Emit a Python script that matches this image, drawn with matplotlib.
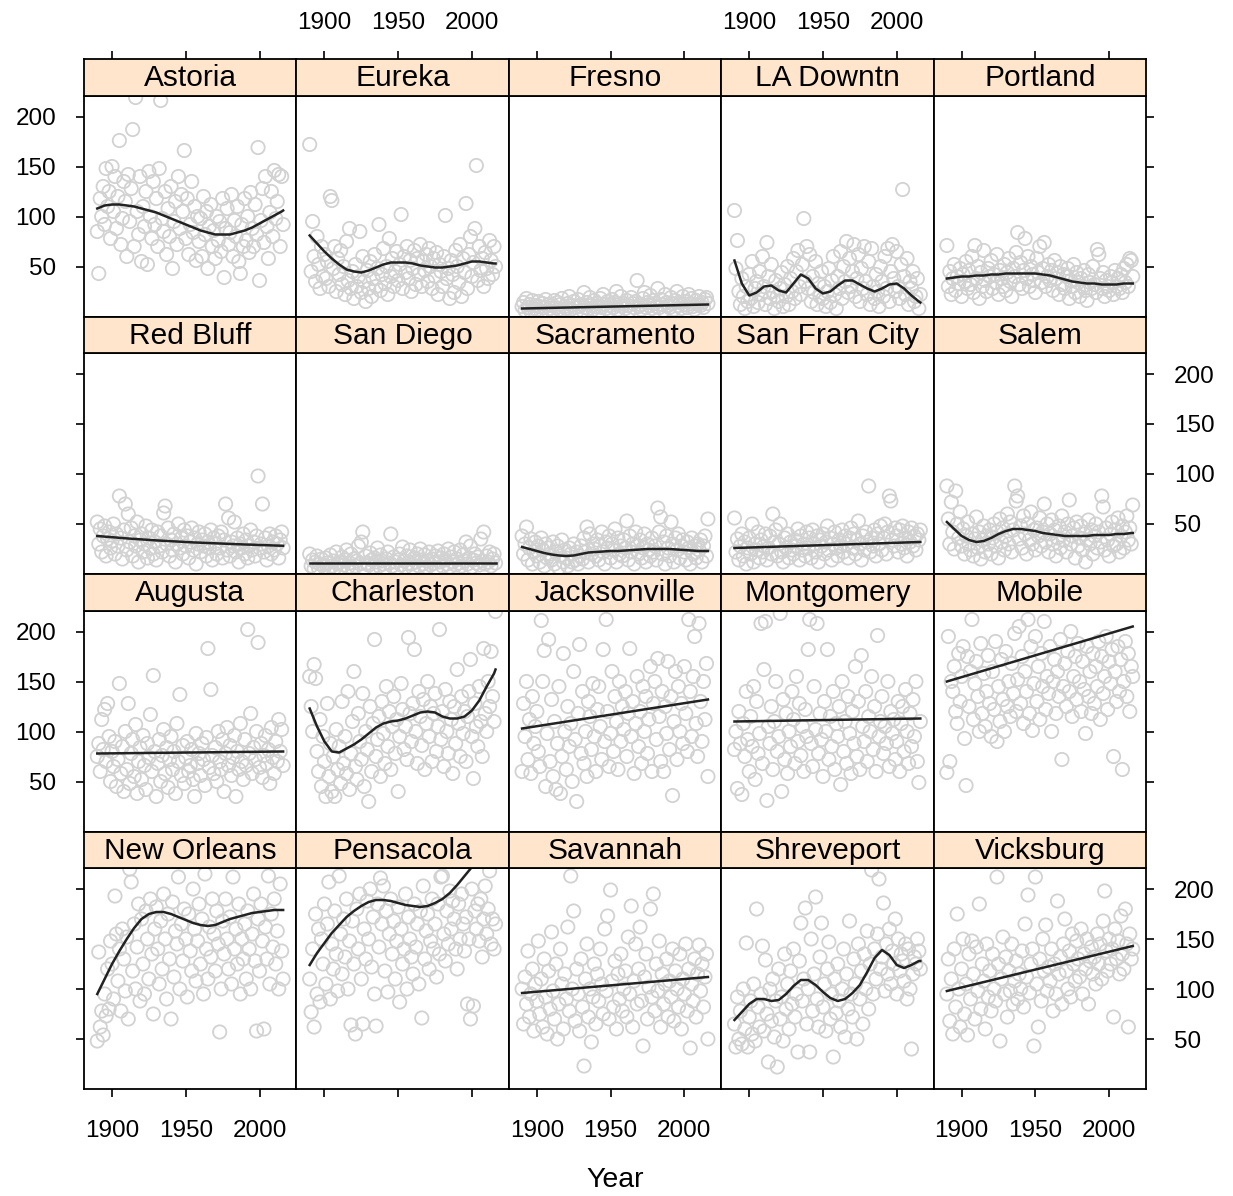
import numpy as np
import matplotlib.pyplot as plt

# ---------------------------------------- annual values per station, 1890..2016 ----------------------------------------
first_year = 1890
knots = list(range(1890, 2016, 5)) + [2016]   # years where the smooth curve was read
ends = [1890, 2016]                           # straight-line fits

astoria = [85, 43, 118, 100, 130, 92, 148, 110, 125, 78,
           150, 105, 140, 88, 120, 176, 72, 98, 135, 115,
           60, 142, 95, 128, 187, 70, 219, 105, 82, 140,
           55, 110, 90, 125, 52, 145, 100, 78, 135, 92,
           118, 70, 148, 216, 98, 85, 125, 62, 108, 80,
           130, 48, 95, 115, 72, 140, 88, 122, 105, 166,
           78, 118, 62, 92, 135, 84, 110, 56, 100, 75,
           98, 60, 120, 82, 105, 48, 90, 112, 70, 86,
           58, 100, 76, 95, 65, 118, 39, 88, 108, 72,
           84, 122, 60, 96, 80, 110, 55, 43, 92, 70,
           118, 76, 100, 64, 124, 88, 70, 112, 82, 169,
           36, 96, 128, 74, 140, 90, 58, 104, 125, 80,
           146, 98, 115, 142, 70, 140, 92]
astoria_fit = [108, 111, 112, 112, 111, 110, 108, 106, 104, 101, 98, 95, 92, 89,
               86, 84, 82, 82, 82, 84, 86, 89, 93, 97, 101, 105, 106]

eureka = [172, 45, 95, 60, 35, 80, 52, 28, 70, 40,
          62, 38, 55, 30, 120, 116, 48, 70, 25, 58,
          42, 66, 32, 50, 22, 75, 36, 88, 28, 45,
          18, 52, 30, 40, 85, 24, 60, 35, 15, 46,
          28, 55, 20, 38, 62, 30, 48, 92, 26, 42,
          68, 33, 50, 22, 78, 40, 58, 30, 45, 65,
          36, 52, 102, 28, 60, 44, 70, 38, 56, 25,
          48, 66, 32, 58, 42, 72, 30, 55, 46, 62,
          35, 68, 50, 28, 58, 40, 64, 22, 52, 45,
          30, 60, 101, 38, 48, 18, 56, 42, 24, 66,
          50, 34, 72, 20, 58, 44, 113, 28, 62, 80,
          40, 54, 88, 151, 36, 70, 46, 58, 30, 64,
          48, 38, 76, 56, 42, 70, 50]
eureka_fit = [81, 73, 65, 58, 52, 47, 45, 44, 46, 49, 52, 54, 54, 54,
              53, 51, 50, 49, 49, 50, 51, 53, 55, 55, 54, 53, 53]

fresno = [10, 14, 6, 18, 9, 12, 5, 16, 8, 11,
          7, 15, 10, 4, 13, 9, 17, 6, 12, 8,
          11, 5, 16, 9, 14, 7, 12, 18, 6, 10,
          8, 13, 20, 7, 11, 15, 9, 5, 17, 10,
          12, 6, 24, 9, 14, 8, 19, 11, 7, 16,
          10, 13, 5, 18, 9, 22, 12, 8, 15, 6,
          11, 17, 9, 14, 25, 7, 12, 20, 10, 13,
          8, 16, 11, 6, 19, 13, 9, 15, 36, 10,
          12, 7, 18, 24, 9, 14, 11, 21, 8, 16,
          13, 10, 28, 9, 17, 12, 6, 22, 14, 11,
          9, 19, 13, 7, 16, 25, 11, 14, 8, 20,
          12, 15, 9, 22, 13, 18, 10, 7, 16, 12,
          20, 11, 14, 9, 17, 19, 13]
fresno_fit = [8, 12]

la_downtn = [106, 48, 76, 25, 12, 38, 20, 8, 30, 15,
             42, 18, 55, 10, 28, 35, 14, 45, 22, 60,
             30, 12, 74, 40, 18, 52, 25, 8, 36, 20,
             15, 28, 44, 10, 32, 20, 50, 12, 38, 25,
             58, 18, 45, 66, 30, 22, 52, 98, 35, 70,
             28, 62, 15, 40, 24, 55, 12, 33, 20, 45,
             18, 30, 10, 25, 48, 14, 36, 60, 22, 8,
             40, 28, 65, 18, 50, 35, 75, 24, 58, 30,
             45, 72, 20, 38, 62, 15, 48, 28, 70, 35,
             22, 55, 12, 68, 30, 18, 42, 25, 10, 50,
             35, 20, 60, 28, 68, 15, 45, 72, 38, 25,
             65, 30, 18, 52, 127, 40, 22, 58, 12, 35,
             28, 45, 15, 20, 38, 8, 22]
la_downtn_fit = [56, 33, 21, 24, 30, 31, 26, 24, 33, 42, 38, 28, 23, 25,
                 31, 36, 36, 32, 28, 25, 28, 32, 33, 28, 21, 15, 14]

portland = [71, 30, 45, 22, 38, 52, 26, 40, 33, 48,
            20, 42, 35, 55, 28, 46, 32, 60, 24, 71,
            38, 50, 18, 44, 30, 66, 36, 25, 48, 40,
            56, 28, 42, 34, 62, 22, 46, 38, 30, 52,
            26, 44, 58, 35, 20, 48, 40, 64, 84, 32,
            54, 28, 46, 78, 38, 60, 30, 50, 42, 36,
            24, 58, 44, 70, 34, 48, 74, 30, 40, 52,
            36, 46, 26, 56, 38, 44, 22, 50, 32, 42,
            28, 40, 48, 18, 36, 30, 52, 24, 44, 34,
            20, 38, 30, 46, 26, 16, 42, 34, 28, 50,
            32, 24, 67, 62, 38, 28, 44, 20, 36, 30,
            26, 40, 34, 22, 46, 30, 38, 28, 42, 24,
            48, 34, 52, 30, 58, 56, 40]
portland_fit = [38, 39, 40, 40, 41, 41, 42, 42, 43, 43, 43, 43, 43, 42,
                41, 39, 37, 35, 34, 33, 33, 32, 32, 32, 33, 33, 33]

red_bluff = [52, 30, 45, 22, 38, 48, 18, 35, 42, 26,
             33, 50, 20, 40, 28, 78, 36, 15, 44, 70,
             24, 60, 32, 46, 18, 38, 28, 52, 12, 34,
             40, 22, 30, 48, 16, 36, 26, 44, 20, 32,
             14, 42, 28, 38, 22, 61, 68, 30, 46, 18,
             34, 24, 40, 12, 30, 50, 26, 36, 20, 44,
             28, 38, 16, 32, 46, 24, 36, 10, 30, 42,
             22, 34, 28, 40, 18, 32, 26, 44, 14, 36,
             30, 20, 38, 26, 42, 16, 34, 70, 24, 56,
             18, 32, 28, 52, 22, 36, 12, 30, 26, 40,
             20, 34, 16, 28, 44, 24, 32, 18, 38, 98,
             26, 30, 70, 22, 36, 14, 28, 40, 20, 32,
             24, 38, 30, 16, 34, 42, 26]
red_bluff_fit = [38, 37.4, 36.8, 36.2, 35.6, 35.1, 34.6, 34.1, 33.6, 33.2, 32.8, 32.4, 32.0, 31.6,
                 31.3, 31.0, 30.7, 30.4, 30.1, 29.8, 29.5, 29.3, 29.0, 28.8, 28.5, 28.3, 28.2]

san_diego = [20, 8, 14, 5, 12, 18, 6, 10, 15, 9,
             7, 16, 11, 4, 19, 8, 13, 6, 22, 10,
             12, 5, 17, 9, 14, 24, 7, 11, 20, 6,
             15, 8, 13, 28, 10, 32, 42, 6, 18, 11,
             9, 21, 14, 7, 16, 12, 26, 8, 19, 13,
             10, 6, 15, 22, 11, 40, 8, 17, 12, 5,
             14, 20, 9, 27, 13, 7, 18, 11, 24, 10,
             6, 16, 12, 20, 8, 25, 14, 10, 19, 7,
             13, 22, 9, 15, 11, 18, 6, 23, 12, 16,
             8, 20, 14, 10, 25, 7, 17, 12, 22, 9,
             15, 11, 24, 8, 19, 13, 32, 10, 16, 28,
             7, 14, 20, 11, 17, 9, 35, 13, 42, 10,
             18, 12, 22, 8, 15, 20, 11]
san_diego_fit = [11, 11]

sacramento = [38, 20, 30, 47, 14, 26, 35, 10, 22, 32,
              18, 28, 12, 36, 24, 8, 30, 16, 26, 20,
              14, 32, 10, 22, 28, 6, 18, 34, 12, 24,
              16, 8, 26, 20, 12, 30, 14, 22, 10, 18,
              28, 15, 36, 22, 47, 12, 40, 20, 30, 25,
              18, 34, 14, 28, 42, 22, 10, 32, 26, 38,
              16, 30, 24, 45, 12, 36, 20, 28, 18, 34,
              26, 53, 14, 38, 22, 30, 10, 42, 28, 20,
              34, 16, 26, 40, 12, 30, 24, 18, 36, 22,
              28, 14, 66, 42, 57, 20, 32, 10, 38, 26,
              18, 52, 30, 12, 36, 24, 40, 16, 28, 34,
              22, 14, 32, 26, 10, 36, 20, 28, 16, 30,
              24, 34, 12, 28, 38, 18, 55]
sacramento_fit = [27, 25, 23, 21, 19.5, 18.5, 18, 18.5, 20, 21.5, 22, 22.5, 23, 23,
                  23.5, 24, 24.5, 25, 25, 25, 25, 24.5, 24, 23.5, 23, 23, 23]

san_fran = [56, 22, 35, 14, 28, 40, 18, 32, 10, 26,
            36, 20, 50, 12, 30, 24, 42, 16, 34, 22,
            28, 40, 14, 26, 38, 20, 60, 32, 44, 18,
            30, 50, 22, 12, 36, 26, 40, 16, 32, 24,
            20, 34, 28, 45, 14, 38, 24, 30, 18, 42,
            26, 36, 16, 44, 30, 22, 38, 12, 34, 28,
            40, 20, 32, 48, 24, 36, 14, 30, 42, 26,
            18, 34, 28, 44, 22, 38, 30, 16, 36, 46,
            26, 40, 20, 34, 53, 30, 14, 38, 24, 42,
            32, 88, 22, 36, 28, 44, 18, 40, 30, 48,
            24, 36, 50, 20, 42, 78, 73, 34, 28, 46,
            38, 22, 44, 30, 48, 26, 36, 18, 42, 32,
            46, 28, 38, 24, 40, 34, 44]
san_fran_fit = [26, 32]

salem = [88, 55, 30, 72, 42, 25, 83, 50, 36, 62,
         28, 45, 20, 38, 52, 30, 24, 40, 18, 35,
         57, 26, 42, 15, 34, 48, 22, 38, 30, 44,
         20, 36, 50, 28, 42, 16, 55, 32, 46, 24,
         38, 60, 30, 52, 22, 44, 88, 73, 78, 35,
         48, 26, 58, 40, 20, 50, 34, 62, 30, 44,
         24, 46, 38, 56, 28, 42, 70, 32, 50, 22,
         40, 54, 30, 44, 18, 36, 48, 26, 58, 34,
         42, 22, 50, 74, 30, 38, 46, 16, 52, 28,
         36, 48, 24, 40, 12, 34, 54, 30, 44, 20,
         38, 50, 26, 42, 32, 78, 67, 24, 46, 34,
         18, 40, 52, 28, 44, 30, 56, 22, 38, 48,
         26, 42, 58, 34, 46, 30, 69]
salem_fit = [52, 45, 38, 34, 32, 33, 36, 40, 43, 45, 45, 44, 43, 41,
             40, 39, 38, 38, 38, 38, 39, 39, 39, 40, 40, 41, 41]

augusta = [75, 88, 60, 112, 82, 122, 70, 128, 95, 50,
           80, 65, 90, 45, 72, 148, 58, 85, 40, 100,
           62, 128, 48, 78, 92, 55, 107, 38, 70, 84,
           52, 96, 66, 42, 88, 74, 117, 60, 156, 80,
           35, 68, 92, 50, 76, 102, 58, 84, 44, 72,
           95, 62, 80, 38, 108, 70, 137, 56, 86, 48,
           74, 90, 60, 66, 82, 52, 35, 98, 68, 78,
           56, 88, 72, 46, 94, 183, 64, 142, 76, 58,
           84, 50, 100, 70, 62, 92, 40, 78, 104, 66,
           86, 56, 74, 96, 35, 80, 62, 108, 70, 52,
           92, 66, 202, 78, 118, 58, 84, 72, 100, 189,
           64, 88, 54, 76, 96, 68, 82, 48, 104, 74,
           58, 90, 70, 112, 80, 102, 66]
augusta_fit = [78, 80]

charleston = [155, 125, 100, 167, 153, 80, 60, 112, 45, 95,
              70, 35, 128, 55, 88, 40, 75, 35, 102, 62,
              85, 48, 130, 68, 95, 58, 140, 42, 78, 110,
              160, 65, 52, 118, 90, 72, 138, 45, 100, 82,
              30, 125, 60, 108, 192, 75, 92, 115, 55, 130,
              98, 68, 145, 85, 120, 62, 105, 135, 78, 112,
              40, 95, 148, 122, 82, 105, 72, 194, 118, 90,
              128, 182, 100, 68, 140, 115, 86, 132, 62, 108,
              150, 95, 125, 70, 118, 138, 80, 105, 202, 92,
              120, 65, 142, 100, 78, 130, 112, 58, 125, 88,
              162, 108, 75, 135, 98, 120, 70, 115, 140, 172,
              95, 53, 128, 105, 85, 145, 110, 75, 183, 118,
              100, 150, 125, 180, 135, 110, 220]
charleston_fit = [123, 105, 90, 80, 79, 83, 87, 92, 98, 104, 108, 110, 111, 113,
                  116, 119, 120, 119, 115, 113, 113, 115, 121, 131, 145, 158, 162]

jacksonville = [60, 128, 95, 150, 72, 112, 58, 135, 88, 105,
                120, 80, 65, 211, 150, 181, 45, 98, 192, 70,
                132, 55, 110, 42, 88, 145, 38, 75, 178, 100,
                62, 125, 85, 108, 50, 160, 92, 30, 118, 187,
                78, 140, 68, 100, 55, 130, 115, 82, 148, 95,
                60, 122, 145, 105, 72, 182, 90, 212, 120, 65,
                98, 160, 80, 135, 110, 62, 150, 90, 125, 102,
                140, 75, 118, 183, 95, 130, 58, 108, 155, 85,
                120, 68, 145, 100, 135, 78, 112, 165, 60, 128,
                150, 92, 173, 115, 70, 140, 60, 125, 98, 170,
                82, 135, 36, 110, 160, 72, 145, 100, 128, 88,
                165, 118, 80, 212, 140, 95, 155, 195, 108, 75,
                208, 130, 90, 150, 112, 168, 55]
jacksonville_fit = [103, 132]

montgomery = [82, 100, 43, 120, 88, 37, 108, 75, 140, 92,
              60, 115, 85, 145, 52, 130, 78, 98, 208, 68,
              162, 210, 31, 105, 88, 125, 62, 110, 150, 80,
              95, 218, 40, 132, 72, 118, 58, 100, 85, 140,
              112, 68, 155, 90, 128, 76, 105, 60, 122, 95,
              182, 212, 88, 65, 145, 102, 208, 78, 118, 92,
              55, 130, 100, 182, 72, 115, 85, 140, 62, 108,
              95, 125, 47, 150, 80, 110, 68, 135, 98, 58,
              120, 88, 165, 75, 130, 62, 176, 105, 90, 140,
              70, 115, 100, 155, 82, 125, 60, 196, 95, 110,
              135, 78, 105, 88, 150, 65, 120, 98, 112, 72,
              90, 130, 60, 108, 125, 80, 142, 100, 68, 118,
              85, 132, 95, 150, 70, 49, 110]
montgomery_fit = [110, 113]

mobile = [59, 195, 70, 150, 140, 165, 120, 108, 178, 130,
          155, 185, 93, 46, 175, 125, 160, 212, 112, 148,
          170, 135, 100, 188, 118, 158, 105, 140, 176, 128,
          95, 160, 122, 190, 90, 145, 110, 172, 132, 100,
          180, 125, 150, 115, 168, 138, 198, 120, 152, 205,
          128, 175, 108, 160, 140, 212, 118, 185, 101, 148,
          195, 130, 165, 112, 178, 145, 210, 122, 155, 138,
          185, 100, 150, 172, 118, 160, 135, 192, 72, 145,
          168, 125, 180, 140, 200, 115, 155, 175, 132, 188,
          150, 120, 170, 142, 98, 185, 135, 160, 118, 178,
          128, 165, 145, 190, 112, 175, 138, 155, 195, 122,
          170, 148, 182, 75, 160, 130, 185, 140, 172, 62,
          150, 190, 135, 178, 120, 165, 155]
mobile_fit = [150, 205]

new_orleans = [48, 137, 62, 78, 54, 95, 73, 120, 80, 148,
               125, 90, 193, 155, 108, 140, 78, 160, 130, 98,
               152, 70, 220, 207, 118, 165, 100, 142, 185, 88,
               170, 125, 95, 178, 150, 110, 190, 135, 75, 160,
               182, 140, 105, 168, 120, 195, 150, 90, 175, 130,
               70, 187, 112, 158, 145, 212, 100, 165, 128, 180,
               150, 92, 175, 138, 118, 200, 160, 108, 148, 185,
               125, 170, 95, 215, 140, 110, 162, 132, 190, 155,
               118, 178, 145, 57, 100, 168, 135, 190, 150, 120,
               172, 105, 212, 140, 160, 125, 185, 95, 150, 130,
               165, 110, 178, 140, 100, 155, 195, 128, 58, 170,
               118, 185, 148, 60, 162, 130, 213, 105, 175, 142,
               190, 125, 158, 100, 205, 138, 110]
new_orleans_fit = [95, 110, 125, 138, 150, 161, 170, 175, 177, 177, 175, 172, 169, 166,
                   164, 163, 164, 167, 170, 172, 174, 176, 177, 178, 179, 179, 179]

pensacola = [110, 77, 140, 62, 175, 95, 160, 87, 150, 125,
             185, 105, 165, 207, 90, 145, 120, 178, 135, 98,
             213, 155, 115, 170, 132, 190, 100, 148, 64, 168,
             125, 55, 180, 140, 195, 110, 65, 160, 130, 188,
             150, 200, 122, 172, 95, 63, 185, 142, 211, 165,
             203, 118, 178, 97, 155, 190, 135, 168, 110, 148,
             182, 87, 160, 125, 140, 195, 100, 172, 150, 132,
             115, 185, 142, 165, 105, 178, 71, 203, 130, 158,
             175, 120, 148, 190, 140, 165, 112, 185, 135, 212,
             213, 155, 128, 178, 145, 198, 160, 188, 170, 140,
             120, 185, 150, 195, 165, 138, 172, 85, 150, 70,
             200, 83, 178, 160, 185, 148, 190, 132, 170, 203,
             155, 180, 218, 145, 170, 140, 165]
pensacola_fit = [124, 136, 146, 156, 164, 172, 178, 183, 187, 189, 189, 188, 186, 184,
                 183, 182, 183, 186, 190, 196, 204, 213, 222, 232, 242, 252, 254]

savannah = [100, 65, 112, 85, 138, 72, 95, 120, 58, 105,
            88, 148, 75, 110, 62, 130, 92, 55, 118, 80,
            157, 98, 70, 125, 50, 85, 140, 105, 60, 115,
            90, 162, 78, 213, 100, 178, 68, 120, 95, 58,
            130, 82, 23, 110, 145, 72, 100, 47, 92, 125,
            65, 115, 88, 140, 105, 75, 160, 98, 173, 70,
            199, 108, 82, 128, 60, 115, 90, 135, 78, 100,
            118, 72, 152, 95, 183, 62, 108, 145, 85, 120,
            162, 88, 43, 112, 135, 70, 102, 180, 92, 195,
            78, 125, 98, 148, 62, 115, 85, 105, 130, 72,
            108, 92, 140, 68, 118, 100, 82, 135, 60, 110,
            95, 145, 78, 120, 41, 105, 88, 130, 72, 115,
            144, 98, 125, 82, 112, 135, 50]
savannah_fit = [96, 112]

shreveport = [65, 42, 92, 50, 78, 45, 100, 60, 146, 42,
              72, 88, 55, 105, 48, 180, 82, 62, 95, 143,
              58, 129, 75, 27, 100, 68, 110, 52, 88, 22,
              120, 70, 92, 48, 135, 80, 105, 60, 118, 85,
              140, 72, 95, 37, 128, 166, 88, 110, 181, 65,
              100, 37, 150, 78, 115, 192, 90, 62, 132, 166,
              82, 105, 58, 120, 147, 70, 95, 32, 110, 76,
              125, 88, 62, 100, 140, 52, 115, 80, 168, 95,
              72, 130, 105, 50, 145, 90, 118, 65, 135, 100,
              158, 80, 125, 219, 95, 140, 110, 155, 210, 120,
              132, 186, 98, 145, 115, 160, 105, 138, 125, 170,
              95, 150, 118, 135, 128, 108, 145, 90, 140, 100,
              40, 115, 132, 125, 150, 138, 120]
shreveport_fit = [69, 77, 85, 90, 90, 88, 89, 95, 103, 109, 109, 104, 97, 91,
                  88, 90, 96, 104, 117, 131, 139, 134, 124, 121, 124, 128, 128]

vicksburg = [95, 130, 68, 110, 55, 140, 82, 175, 100, 62,
             120, 150, 75, 105, 54, 135, 90, 148, 115, 70,
             142, 98, 185, 80, 125, 108, 60, 145, 92, 118,
             78, 135, 100, 88, 212, 125, 48, 110, 152, 95,
             132, 72, 118, 98, 145, 85, 108, 128, 90, 115,
             100, 138, 82, 165, 112, 194, 96, 125, 140, 43,
             212, 105, 62, 130, 88, 150, 118, 164, 98, 122,
             108, 140, 78, 125, 95, 188, 115, 132, 85, 145,
             170, 118, 100, 138, 92, 155, 125, 108, 148, 130,
             112, 160, 95, 135, 120, 150, 85, 128, 142, 115,
             132, 105, 155, 125, 145, 110, 168, 198, 138, 118,
             150, 125, 140, 72, 160, 130, 148, 115, 173, 135,
             120, 180, 145, 62, 155, 130, 140]
vicksburg_fit = [98, 143]

names = ["Astoria", "Eureka", "Fresno", "LA Downtn", "Portland",
         "Red Bluff", "San Diego", "Sacramento", "San Fran City", "Salem",
         "Augusta", "Charleston", "Jacksonville", "Montgomery", "Mobile",
         "New Orleans", "Pensacola", "Savannah", "Shreveport", "Vicksburg"]
series = [astoria, eureka, fresno, la_downtn, portland,
          red_bluff, san_diego, sacramento, san_fran, salem,
          augusta, charleston, jacksonville, montgomery, mobile,
          new_orleans, pensacola, savannah, shreveport, vicksburg]
fits = [astoria_fit, eureka_fit, fresno_fit, la_downtn_fit, portland_fit,
        red_bluff_fit, san_diego_fit, sacramento_fit, san_fran_fit, salem_fit,
        augusta_fit, charleston_fit, jacksonville_fit, montgomery_fit, mobile_fit,
        new_orleans_fit, pensacola_fit, savannah_fit, shreveport_fit, vicksburg_fit]

x_ticks = [1900, 1950, 2000]
y_ticks = [50, 100, 150, 200]

# ------------------------------------------------------ layout ------------------------------------------------------
plt.rcParams['font.family'] = ['Liberation Sans', 'DejaVu Sans']
W, H = 1233, 1196
fig = plt.figure(figsize=(W / 100, H / 100), dpi=100)

def rect(x, y, w, h):
    return [x / W, 1 - (y + h) / H, w / W, h / H]

left0, pw = 84, 212.4
top0, pitch, sh, ph = 59, 257.5, 36.5, 221
xlim = (1881, 2025)
ylim = (0, 221)
tick_len = 6

for k, name in enumerate(names):
    r, c = divmod(k, 5)
    x0 = left0 + c * pw
    ys = top0 + r * pitch

    ax = fig.add_axes(rect(x0, ys + sh, pw, ph))
    vals = series[k]
    yrs = first_year + np.arange(len(vals))
    ax.scatter(yrs, vals, s=92, facecolors='none', edgecolors='#d2d2d2', linewidths=1.3, zorder=2)
    fy = fits[k]
    fx = ends if len(fy) == 2 else knots
    ax.plot(fx, fy, color='#222222', lw=1.8, zorder=3)
    ax.set_xlim(*xlim)
    ax.set_ylim(*ylim)
    ax.set_xticks(x_ticks)
    ax.set_yticks(y_ticks)
    for s in ax.spines.values():
        s.set_linewidth(1.3)
    ax.tick_params(direction='out', length=tick_len, width=1.2, labelsize=17.5,
                   left=(c == 0), labelleft=(c == 0 and r % 2 == 0),
                   right=(c == 4), labelright=(c == 4 and r % 2 == 1),
                   bottom=(r == 3), labelbottom=(r == 3 and c % 2 == 0),
                   top=False, labeltop=False)
    ax.tick_params(axis='y', pad=14)
    ax.tick_params(axis='x', pad=16)

    st = fig.add_axes(rect(x0, ys, pw, sh))
    st.set_facecolor('#ffe5cc')
    st.set_xlim(*xlim)
    st.set_ylim(0, 1)
    st.set_yticks([])
    st.set_xticks(x_ticks)
    for s in st.spines.values():
        s.set_linewidth(1.3)
    st.tick_params(direction='out', length=tick_len, width=1.2, labelsize=17.5, pad=12,
                   bottom=False, labelbottom=False,
                   top=(r == 0), labeltop=(r == 0 and c % 2 == 1))
    st.text(0.5, 0.47, name, transform=st.transAxes, ha='center', va='center', fontsize=21.5)

fig.text(615 / W, 1 - 1180 / H, "Year", ha='center', va='center', fontsize=20.5)

plt.savefig("out.png", dpi=100)
